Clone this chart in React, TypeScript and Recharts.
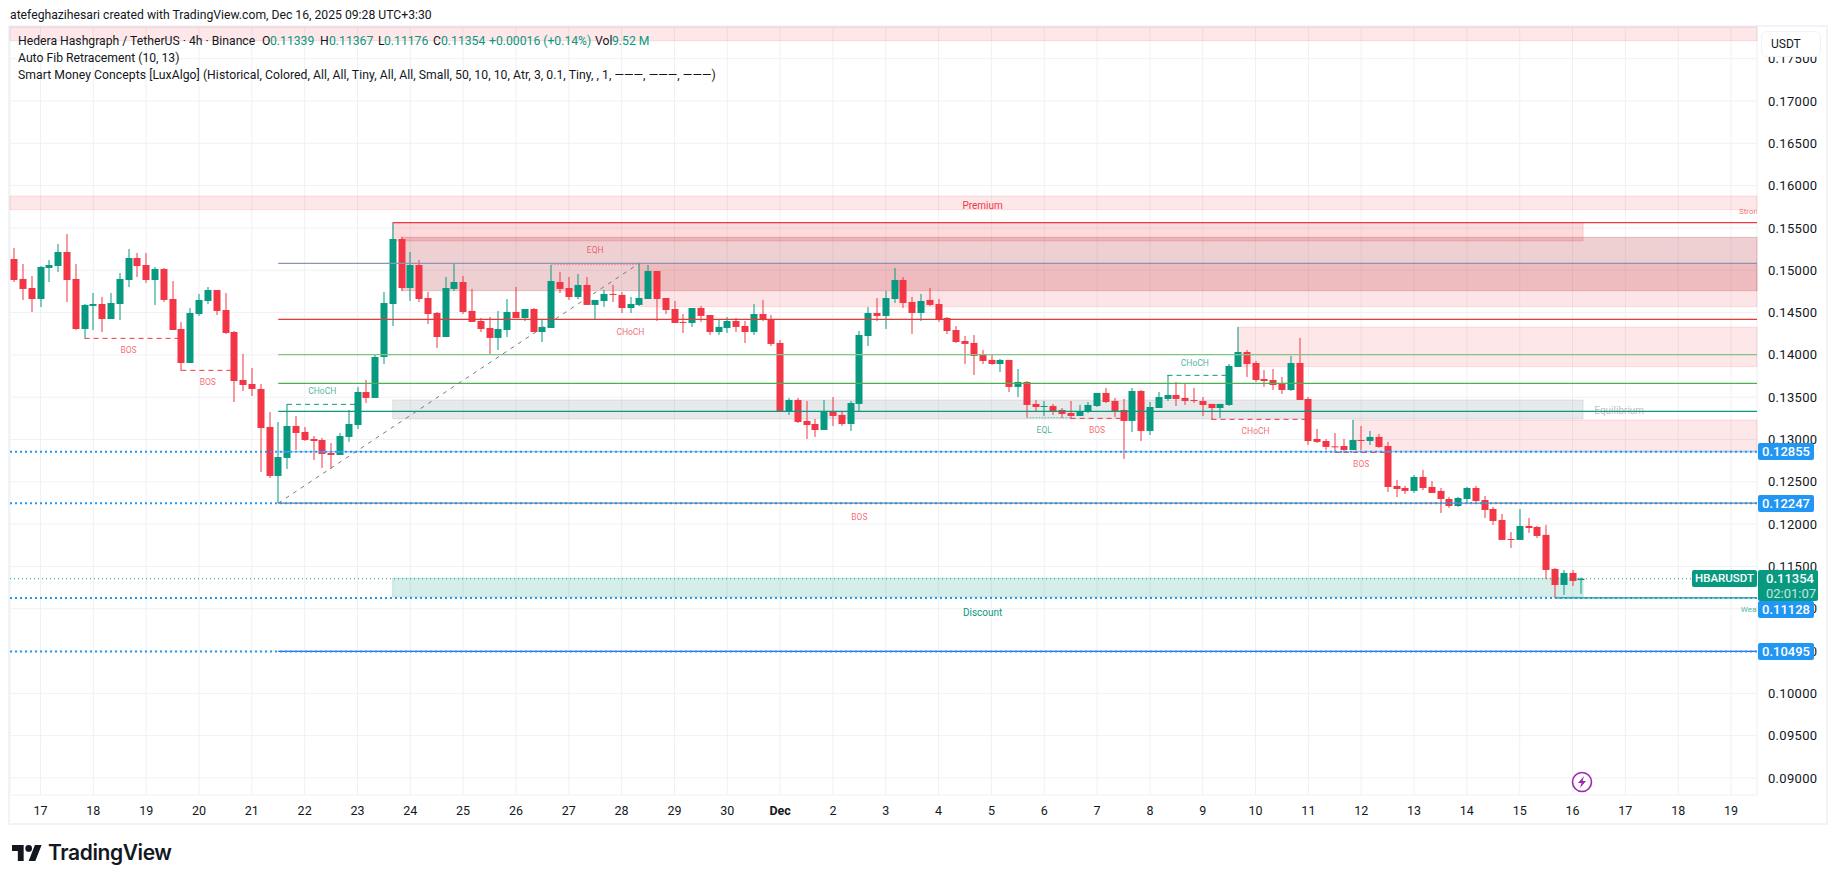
import React from 'react';
import {
  Bar,
  CartesianGrid,
  ComposedChart,
  ReferenceArea,
  ReferenceDot,
  ReferenceLine,
  XAxis,
  YAxis,
} from 'recharts';

const opens = [
  0.15133, 0.14897, 0.1479, 0.1466, 0.15027, 0.1505, 0.15216, 0.14897, 0.14306, 0.14578,
  0.14601, 0.14424, 0.14601, 0.14885, 0.15145, 0.15062, 0.14885, 0.15015, 0.1466, 0.14306,
  0.13904, 0.14483, 0.14637, 0.14767, 0.1453, 0.1427, 0.13703, 0.13656, 0.13597, 0.13148,
  0.12569, 0.12782, 0.1316, 0.13089, 0.13006, 0.12994, 0.12841, 0.12817, 0.1303, 0.13171,
  0.13561, 0.13491, 0.13975, 0.14601, 0.15369, 0.1479, 0.15062, 0.14672, 0.14495, 0.14211,
  0.14779, 0.14861, 0.14519, 0.144, 0.14318, 0.142, 0.14294, 0.14507, 0.14436, 0.14542,
  0.1427, 0.14318, 0.14861, 0.1479, 0.14684, 0.14826, 0.1459, 0.14637, 0.1472, 0.14708,
  0.14554, 0.1459, 0.1466, 0.14991, 0.14672, 0.14542, 0.14389, 0.14377, 0.14554, 0.14471,
  0.1427, 0.14318, 0.144, 0.14341, 0.1427, 0.14483, 0.14424, 0.14141, 0.13325, 0.13467,
  0.13219, 0.13183, 0.13112, 0.13337, 0.1329, 0.13183, 0.1342, 0.14223, 0.14495, 0.1446,
  0.1466, 0.14885, 0.14625, 0.14495, 0.14649, 0.14601, 0.14436, 0.14294, 0.14164, 0.14141,
  0.13999, 0.1394, 0.13892, 0.1394, 0.13621, 0.1368, 0.1342, 0.13384, 0.13396, 0.13349,
  0.13313, 0.13278, 0.13325, 0.13396, 0.1355, 0.13455, 0.13349, 0.13219, 0.13573, 0.13101,
  0.13372, 0.13479, 0.13526, 0.13491, 0.13467, 0.13455, 0.1342, 0.13372, 0.13408, 0.13857,
  0.14034, 0.13904, 0.13715, 0.13703, 0.13656, 0.13585, 0.13904, 0.13479, 0.13006, 0.12982,
  0.12919, 0.12923, 0.12876, 0.12994, 0.12982, 0.1303, 0.12923, 0.12451, 0.12427, 0.12392,
  0.12557, 0.12439, 0.12392, 0.12297, 0.12214, 0.12297, 0.12427, 0.12285, 0.12179, 0.12049,
  0.11824, 0.11813, 0.11978, 0.11966, 0.11872, 0.1147, 0.11281, 0.11423, 0.11339,
];

const highs = [
  0.15263, 0.15074, 0.14932, 0.1505, 0.15121, 0.1531, 0.15429, 0.15074, 0.14601, 0.14731,
  0.14684, 0.14731, 0.14968, 0.15251, 0.15204, 0.15204, 0.15039, 0.15027, 0.14873, 0.14389,
  0.14554, 0.1472, 0.14802, 0.14767, 0.14731, 0.14282, 0.14011, 0.13845, 0.13656, 0.13325,
  0.13207, 0.1342, 0.13278, 0.13148, 0.13041, 0.13018, 0.12959, 0.13077, 0.13349, 0.13621,
  0.13703, 0.13999, 0.14743, 0.15562, 0.15393, 0.15216, 0.15121, 0.14743, 0.14507, 0.1492,
  0.15074, 0.14932, 0.14779, 0.14436, 0.14448, 0.14519, 0.1466, 0.14802, 0.14542, 0.14554,
  0.14424, 0.15062, 0.1498, 0.1492, 0.14956, 0.1492, 0.14649, 0.14767, 0.14826, 0.14743,
  0.14684, 0.15082, 0.15062, 0.14991, 0.14672, 0.14637, 0.14483, 0.14554, 0.14578, 0.14471,
  0.14412, 0.14448, 0.14436, 0.144, 0.14601, 0.14649, 0.14471, 0.14176, 0.13491, 0.13491,
  0.13455, 0.13242, 0.13467, 0.13502, 0.13325, 0.13455, 0.14282, 0.14566, 0.14672, 0.14755,
  0.15027, 0.1492, 0.14684, 0.1472, 0.1479, 0.1466, 0.14448, 0.14341, 0.14223, 0.14235,
  0.14058, 0.14011, 0.13951, 0.1394, 0.13833, 0.13691, 0.13467, 0.13455, 0.1342, 0.13372,
  0.13455, 0.13408, 0.13443, 0.1355, 0.13609, 0.13491, 0.13479, 0.13609, 0.13585, 0.13443,
  0.13561, 0.13762, 0.1368, 0.13656, 0.13609, 0.13502, 0.1342, 0.1342, 0.13892, 0.1433,
  0.14058, 0.13928, 0.13821, 0.13833, 0.13739, 0.13987, 0.142, 0.13502, 0.13124, 0.13006,
  0.13077, 0.13006, 0.13231, 0.1316, 0.13101, 0.13065, 0.12971, 0.12522, 0.12451, 0.12581,
  0.1264, 0.1251, 0.12427, 0.12321, 0.12321, 0.12439, 0.12451, 0.12332, 0.12203, 0.1212,
  0.11907, 0.12179, 0.12073, 0.11978, 0.1199, 0.11482, 0.11458, 0.11458, 0.11367,
];

const lows = [
  0.14861, 0.14649, 0.14507, 0.14566, 0.14861, 0.1498, 0.14625, 0.14294, 0.14196, 0.14294,
  0.1427, 0.14424, 0.14412, 0.14802, 0.1492, 0.1485, 0.1459, 0.14625, 0.14294, 0.1381,
  0.13904, 0.1446, 0.14601, 0.14471, 0.14247, 0.13443, 0.13573, 0.13514, 0.12616, 0.12545,
  0.12247, 0.12652, 0.12876, 0.12982, 0.12758, 0.12663, 0.12652, 0.12817, 0.12971, 0.13124,
  0.13431, 0.13491, 0.13892, 0.14341, 0.14755, 0.14637, 0.14625, 0.14365, 0.14081, 0.14211,
  0.14755, 0.14483, 0.14389, 0.1427, 0.13999, 0.14058, 0.14211, 0.14436, 0.144, 0.1427,
  0.14152, 0.14318, 0.14731, 0.14649, 0.1466, 0.1459, 0.14424, 0.14566, 0.14625, 0.14495,
  0.14495, 0.14578, 0.1466, 0.144, 0.14483, 0.14377, 0.14259, 0.1433, 0.14389, 0.14235,
  0.14235, 0.14259, 0.1427, 0.14141, 0.14235, 0.144, 0.14105, 0.13325, 0.1329, 0.13195,
  0.13006, 0.1303, 0.13112, 0.1316, 0.1316, 0.13101, 0.13337, 0.14105, 0.144, 0.14306,
  0.14613, 0.14554, 0.14247, 0.144, 0.14578, 0.14389, 0.14247, 0.14141, 0.13892, 0.13762,
  0.13892, 0.13881, 0.13798, 0.13561, 0.13502, 0.13262, 0.13325, 0.13278, 0.1329, 0.13254,
  0.13242, 0.13278, 0.13313, 0.13384, 0.13431, 0.13266, 0.1277, 0.13089, 0.12982, 0.13053,
  0.13372, 0.13455, 0.13396, 0.13408, 0.13431, 0.13278, 0.13231, 0.13254, 0.13396, 0.13857,
  0.13739, 0.1368, 0.13621, 0.13585, 0.13538, 0.13573, 0.13467, 0.12935, 0.12959, 0.12876,
  0.12841, 0.12841, 0.12876, 0.12876, 0.12935, 0.129, 0.1238, 0.12321, 0.12356, 0.12368,
  0.12403, 0.12368, 0.12132, 0.12191, 0.12203, 0.1225, 0.12262, 0.12073, 0.1199, 0.11813,
  0.11718, 0.11813, 0.11895, 0.11836, 0.11352, 0.11128, 0.11163, 0.11269, 0.11176,
];

const closes = [
  0.14885, 0.14779, 0.1466, 0.15039, 0.15062, 0.15216, 0.14885, 0.14306, 0.1459, 0.14601,
  0.14424, 0.14613, 0.14897, 0.15145, 0.1505, 0.14885, 0.15015, 0.14649, 0.14294, 0.13904,
  0.14495, 0.14649, 0.14767, 0.14519, 0.14259, 0.13691, 0.13644, 0.13597, 0.13136, 0.12569,
  0.12793, 0.1316, 0.13077, 0.12994, 0.12982, 0.12829, 0.12817, 0.13041, 0.13183, 0.13561,
  0.13491, 0.13975, 0.14613, 0.15369, 0.1479, 0.15062, 0.1466, 0.14483, 0.14211, 0.1479,
  0.14861, 0.14507, 0.14389, 0.14306, 0.142, 0.14306, 0.14507, 0.14436, 0.14542, 0.1427,
  0.1433, 0.14873, 0.14779, 0.14684, 0.14826, 0.1459, 0.14649, 0.1472, 0.14708, 0.14554,
  0.14601, 0.14672, 0.14991, 0.1466, 0.1453, 0.14377, 0.14377, 0.14554, 0.1446, 0.1427,
  0.1433, 0.144, 0.1433, 0.1427, 0.14483, 0.14412, 0.14129, 0.13337, 0.13467, 0.13207,
  0.13171, 0.13112, 0.13337, 0.13278, 0.13183, 0.13431, 0.14235, 0.14495, 0.1446, 0.14672,
  0.14885, 0.14613, 0.14495, 0.14637, 0.1459, 0.14412, 0.14282, 0.14152, 0.14129, 0.13987,
  0.13928, 0.13892, 0.1394, 0.13621, 0.1368, 0.13408, 0.13384, 0.13396, 0.13337, 0.13301,
  0.13278, 0.13337, 0.13408, 0.1355, 0.13443, 0.13337, 0.13219, 0.13573, 0.13101, 0.13384,
  0.13502, 0.13526, 0.13479, 0.13455, 0.13455, 0.13408, 0.13372, 0.1342, 0.13869, 0.14034,
  0.13892, 0.13703, 0.13691, 0.13644, 0.13585, 0.13904, 0.13467, 0.12982, 0.12971, 0.12912,
  0.12912, 0.12876, 0.12994, 0.12982, 0.1303, 0.12912, 0.12439, 0.12415, 0.12392, 0.12557,
  0.12427, 0.12368, 0.12297, 0.12214, 0.12309, 0.12427, 0.12273, 0.12167, 0.12037, 0.11813,
  0.11813, 0.11978, 0.11954, 0.1186, 0.11458, 0.11281, 0.11423, 0.11328, 0.11354,
];

const dayLabels = [
  '17', '18', '19', '20', '21', '22', '23', '24', '25', '26', '27', '28', '29', '30', 'Dec', '2', '3',
  '4', '5', '6', '7', '8', '9', '10', '11', '12', '13', '14', '15', '16', '17', '18', '19',
];
// 4h candles: one label every 6 bars, starting from the 4th bar
const dayTicks = dayLabels.map((_, k) => 3 + k * 6);
const priceTicks = [
  0.09, 0.095, 0.1, 0.105, 0.11, 0.115, 0.12, 0.125, 0.13, 0.135, 0.14, 0.145, 0.15, 0.155, 0.16, 0.165, 0.17, 0.175,
];

const X_MIN = -0.465;
const X_MAX = 197.95;
const Y_MIN = 0.087987;
const Y_MAX = 0.178745;
const ZONE_END = 178.2;

const RED = '#f23645';
const GREEN = '#089981';
const BLUE = '#2196f3';

// [x1, x2, top, bottom, fill, opacity]
const zones: [number, number, number, number, string, number][] = [
  [X_MIN, X_MAX, Y_MAX, 0.17713, RED, 0.12],
  [X_MIN, X_MAX, 0.15877, 0.15715, RED, 0.12],
  [43, ZONE_END, 0.15562, 0.15346, RED, 0.18],
  [44, X_MAX, 0.15389, 0.14758, '#b22833', 0.22],
  [71, X_MAX, 0.15082, 0.14569, RED, 0.13],
  [139, X_MAX, 0.14329, 0.1386, RED, 0.12],
  [152, X_MAX, 0.1323, 0.12864, RED, 0.12],
  [43, ZONE_END, 0.13467, 0.13242, '#787b86', 0.17],
  [43, ZONE_END, 0.11363, 0.11139, GREEN, 0.17],
];

// fib levels start at the swing low
const fibLevels: [number, string][] = [
  [0.15082, '#8d93b5'],
  [0.1442, '#e53935'],
  [0.14002, '#81c784'],
  [0.13664, '#4caf50'],
  [0.13333, '#089981'],
  [0.12855, '#64b5f6'],
  [0.12247, '#787b86'],
  [0.10495, '#2962ff'],
];
const alertPrices = [0.12855, 0.12247, 0.11128, 0.10495];

// [from, to, price, colour, dash]
const structureLines: [number, number, number, string, string][] = [
  [8, 19, 0.14195, RED, '5 4'],
  [19, 25, 0.13817, RED, '5 4'],
  [31, 39, 0.13415, GREEN, '5 4'],
  [61, 71, 0.15066, RED, '1.5 1.5'],
  [115, 120, 0.13258, GREEN, '1.5 1.5'],
  [120, 126, 0.1325, RED, '5 4'],
  [131, 138, 0.13758, GREEN, '5 4'],
  [136, 147, 0.13238, RED, '5 4'],
  [150, 156, 0.12848, RED, '5 4'],
];

// [text, x, price, colour]
const structureLabels: [string, number, number, string][] = [
  ['BOS', 13, 0.14053, RED],
  ['BOS', 22, 0.13675, RED],
  ['CHoCH', 35, 0.13569, GREEN],
  ['EQH', 66, 0.15235, RED],
  ['CHoCH', 70, 0.14274, RED],
  ['EQL', 117, 0.13108, GREEN],
  ['BOS', 123, 0.13108, RED],
  ['CHoCH', 134.1, 0.139, GREEN],
  ['CHoCH', 141, 0.13096, RED],
  ['BOS', 153, 0.12706, RED],
  ['BOS', 96, 0.12084, RED],
];

// [text, x, price, colour, opacity]
const zoneLabels: [string, number, number, string, number][] = [
  ['Premium', 110, 0.1576, RED, 1],
  ['Discount', 110, 0.10955, GREEN, 1],
  ['Equilibrium', 182.3, 0.13335, '#787b86', 0.5],
];
// clipped by the price axis
const edgeLabels: [string, number, number, string][] = [
  ['Strong High', 195.9, 0.15699, RED],
  ['Weak Low', 196.1, 0.10995, GREEN],
];

const candles = opens.map((open, i) => ({
  i,
  open,
  high: highs[i],
  low: lows[i],
  close: closes[i],
}));

function Candle(props: any) {
  const { x, y, width, height, payload } = props;
  const { open, high, low, close } = payload;
  const color = close >= open ? GREEN : RED;
  const cx = Math.round(x + width / 2);
  const unit = height / (high - low || 1);
  const top = y + (high - Math.max(open, close)) * unit;
  const bodyH = Math.max(1, Math.abs(open - close) * unit);
  return (
    <g>
      <rect x={cx - 0.5} y={y} width={1} height={Math.max(height, 1)} fill={color} />
      <rect x={cx - 3.5} y={top} width={7} height={bodyH} fill={color} />
    </g>
  );
}

function DayTick(props: any) {
  const { x, y, payload } = props;
  const label = dayLabels[dayTicks.indexOf(payload.value)];
  return (
    <text
      x={x}
      y={y}
      dy={12}
      textAnchor="middle"
      fontSize={12.5}
      fontWeight={label === 'Dec' ? 700 : 400}
      fontFamily="Roboto, sans-serif"
      fill="#131722"
    >
      {label}
    </text>
  );
}

const legendValues: [string, number, boolean][] = [
  ['O', 262, false],
  ['0.11339', 270, true],
  ['H', 320, false],
  ['0.11367', 329, true],
  ['L', 378, false],
  ['0.11176', 384, true],
  ['C', 433, false],
  ['0.11354', 441, true],
  ['+0.00016 (+0.14%)', 489, true],
  ['Vol', 595, false],
  ['9.52 M', 612, true],
];

// [text, top]
const priceTags: [string, number][] = [
  ['0.12855', 443],
  ['0.12247', 495],
  ['0.11128', 601],
  ['0.10495', 643],
];

const font = 'Roboto, sans-serif';
const abs = (left: number, top: number): React.CSSProperties => ({ position: 'absolute', left, top, whiteSpace: 'nowrap' });

export default function App() {
  return (
    <div
      style={{
        position: 'absolute',
        left: 0,
        top: 0,
        width: 1835,
        height: 883,
        overflow: 'hidden',
        background: '#fff',
        fontFamily: font,
        color: '#131722',
      }}
    >
      <div
        style={{
          position: 'absolute',
          left: 8,
          top: 25,
          width: 1816,
          height: 796,
          border: '2px solid #f0f3fa',
        }}
      />
      <div style={{ position: 'absolute', left: 0, top: 0 }}>
        <ComposedChart
          width={1835}
          height={883}
          data={candles}
          margin={{ top: 27, left: 10, right: 10, bottom: 60 }}
        >
          <defs>
            <clipPath id="plot-edge">
              <rect x={10} y={27} width={1747} height={768} />
            </clipPath>
          </defs>
          <CartesianGrid stroke="#f0f1f4" strokeWidth={1} />
          <XAxis
            dataKey="i"
            type="number"
            domain={[X_MIN, X_MAX]}
            allowDataOverflow
            ticks={dayTicks}
            interval={0}
            height={28}
            axisLine={false}
            tickLine={false}
            tick={<DayTick />}
          />
          <YAxis
            type="number"
            orientation="right"
            domain={[Y_MIN, Y_MAX]}
            allowDataOverflow
            ticks={priceTicks}
            interval={0}
            width={68}
            axisLine={false}
            tickLine={false}
            tickMargin={5}
            tick={{ fontSize: 13, fill: '#131722', fontFamily: font, textAnchor: 'start', letterSpacing: 0.3 }}
            tickFormatter={(v: number) => v.toFixed(5)}
          />
          {zones.map(([x1, x2, top, bottom, fill, opacity], k) => (
            <ReferenceArea
              key={`zone-${k}`}
              x1={x1}
              x2={x2}
              y1={bottom}
              y2={top}
              fill={fill}
              fillOpacity={opacity}
              stroke={fill}
              strokeOpacity={opacity}
            />
          ))}
          <ReferenceLine
            segment={[
              { x: 43, y: 0.15562 },
              { x: X_MAX, y: 0.15562 },
            ]}
            stroke={RED}
            strokeWidth={1.2}
          />
          {fibLevels.map(([price, color]) => (
            <ReferenceLine
              key={`fib-${price}`}
              segment={[
                { x: 30, y: price },
                { x: X_MAX, y: price },
              ]}
              stroke={color}
              strokeWidth={1.2}
            />
          ))}
          <ReferenceLine
            segment={[
              { x: 175, y: 0.11128 },
              { x: X_MAX, y: 0.11128 },
            ]}
            stroke={GREEN}
            strokeWidth={1.2}
          />
          <ReferenceLine
            segment={[
              { x: 30, y: 0.12247 },
              { x: 71, y: 0.15082 },
            ]}
            stroke="#787b86"
            strokeWidth={1}
            strokeDasharray="4 5"
          />
          {structureLines.map(([from, to, price, color, dash], k) => (
            <ReferenceLine
              key={`struct-${k}`}
              segment={[
                { x: from, y: price },
                { x: to, y: price },
              ]}
              stroke={color}
              strokeOpacity={dash === '5 4' ? 1 : 0.55}
              strokeWidth={1}
              strokeDasharray={dash}
            />
          ))}
          {alertPrices.map((price) => (
            <ReferenceLine
              key={`alert-${price}`}
              segment={[
                { x: X_MIN, y: price },
                { x: X_MAX, y: price },
              ]}
              stroke={BLUE}
              strokeWidth={2}
              strokeDasharray="2 3"
            />
          ))}
          <ReferenceLine
            segment={[
              { x: X_MIN, y: 0.11354 },
              { x: X_MAX, y: 0.11354 },
            ]}
            stroke={GREEN}
            strokeWidth={1}
            strokeDasharray="1 3"
          />
          <Bar
            dataKey={(d: any) => [d.low, d.high]}
            barSize={7}
            shape={<Candle />}
            isAnimationActive={false}
          />
          {structureLabels.map(([text, x, price, color], k) => (
            <ReferenceDot
              key={`label-${k}`}
              x={x}
              y={price}
              r={0}
              shape={(p: any) => (
                <text
                  x={p.cx}
                  y={p.cy}
                  dy={3}
                  textAnchor="middle"
                  fontSize={8.5}
                  fontFamily={font}
                  fill={color}
                  fillOpacity={0.75}
                >
                  {text}
                </text>
              )}
            />
          ))}
          {zoneLabels.map(([text, x, price, color, opacity]) => (
            <ReferenceDot
              key={text}
              x={x}
              y={price}
              r={0}
              shape={(p: any) => (
                <text
                  x={p.cx}
                  y={p.cy}
                  dy={3}
                  textAnchor="middle"
                  fontSize={10}
                  fontFamily={font}
                  fill={color}
                  fillOpacity={opacity}
                >
                  {text}
                </text>
              )}
            />
          ))}
          {edgeLabels.map(([text, x, price, color]) => (
            <ReferenceDot
              key={text}
              x={x}
              y={price}
              r={0}
              shape={(p: any) => (
                <text
                  x={p.cx}
                  y={p.cy}
                  dy={3}
                  fontSize={8}
                  fontFamily={font}
                  fill={color}
                  fillOpacity={0.75}
                  clipPath="url(#plot-edge)"
                >
                  {text}
                </text>
              )}
            />
          ))}
        </ComposedChart>
      </div>

      <div style={{ ...abs(10, 8), fontSize: 12.2 }}>
        atefeghazihesari created with TradingView.com, Dec 16, 2025 09:28 UTC+3:30
      </div>

      <div style={{ ...abs(18, 34), fontSize: 12.2 }}>Hedera Hashgraph / TetherUS · 4h · Binance</div>
      {legendValues.map(([text, left, isValue]) => (
        <div key={text} style={{ ...abs(left, 34), fontSize: 12.2, color: isValue ? GREEN : '#131722' }}>
          {text}
        </div>
      ))}
      <div style={{ ...abs(18, 51), fontSize: 12.2 }}>Auto Fib Retracement (10, 13)</div>
      <div style={{ ...abs(18, 68), fontSize: 12.2, letterSpacing: 0.05 }}>
        Smart Money Concepts [LuxAlgo] (Historical, Colored, All, All, Tiny, All, All, Small, 50, 10, 10, Atr, 3, 0.1, Tiny, , 1, ———, ———, ———)
      </div>

      <div
        style={{
          ...abs(1761, 31),
          width: 60,
          height: 26,
          boxSizing: 'border-box',
          border: '1px solid #f0f3fa',
          borderRadius: 6,
          background: '#fff',
          fontSize: 12,
          lineHeight: '24px',
          paddingLeft: 9,
        }}
      >
        USDT
      </div>

      {priceTags.map(([text, top]) => (
        <div
          key={text}
          style={{
            ...abs(1758, top),
            width: 56,
            height: 17,
            background: BLUE,
            color: '#fff',
            borderRadius: 2,
            fontSize: 13,
            fontWeight: 500,
            lineHeight: '17px',
            textAlign: 'center',
          }}
        >
          {text}
        </div>
      ))}
      <div
        style={{
          ...abs(1692, 570),
          width: 65,
          height: 17,
          background: GREEN,
          color: '#fff',
          borderRadius: 2,
          fontSize: 11.5,
          fontWeight: 500,
          lineHeight: '17px',
          textAlign: 'center',
        }}
      >
        HBARUSDT
      </div>
      <div
        style={{
          ...abs(1758, 570),
          width: 60,
          height: 31,
          background: GREEN,
          color: '#fff',
          borderRadius: 2,
          fontSize: 13,
          fontWeight: 500,
          lineHeight: '15px',
          paddingTop: 1,
          paddingLeft: 8,
          boxSizing: 'border-box',
        }}
      >
        0.11354
        <div style={{ opacity: 0.75, fontWeight: 400 }}>02:01:07</div>
      </div>

      <svg style={{ position: 'absolute', left: 1571, top: 771 }} width={22} height={22} viewBox="0 0 22 22">
        <circle cx={11} cy={11} r={9.5} fill="#fff" stroke="#9c27b0" strokeWidth={1.6} />
        <path d="M13 5 L7 12 L10.5 12 L9 17 L15 10 L11.5 10 Z" fill="#9c27b0" />
      </svg>

      <svg style={{ position: 'absolute', left: 12, top: 845 }} width={30} height={16} viewBox="0 0 36 19">
        <path d="M14 19H7V7H0V0h14v19zM28 19h-8L27.5 0h8L28 19z" fill="#131722" />
        <circle cx={20} cy={4} r={4} fill="#131722" />
      </svg>
      <div style={{ ...abs(48, 840), fontFamily: 'Inter, sans-serif', fontSize: 21, fontWeight: 600, letterSpacing: -0.4 }}>
        TradingView
      </div>
    </div>
  );
}
